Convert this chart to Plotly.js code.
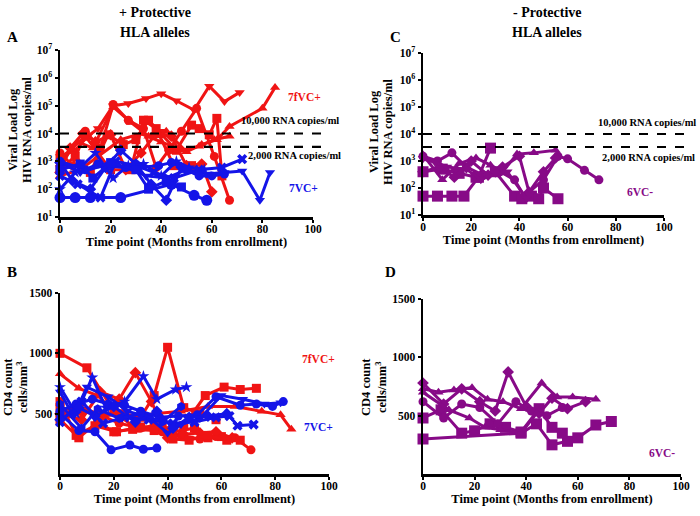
<!DOCTYPE html>
<html>
<head>
<meta charset="utf-8">
<script src="https://cdn.plot.ly/plotly-3.0.1.min.js"></script>
<style>html,body{margin:0;padding:0;background:#fff;}#chart{width:700px;height:516px;}</style>
</head>
<body>
<div id="chart"></div>
<script>
// ---------- Panel A: viral load, + protective HLA (7fVC+ red, 7VC+ blue) ----------
const vlA_red1_x = [0,6,11,15,21,27,34,40,46,53,59,65,71];
const vlA_red1_y = [1500,2500,8000,15000,100000,120000,180000,270000,150000,70000,500000,140000,300000];
const vlA_red2_x = [0,7,13,21,28,35,42,50,56,62,67,80,85];
const vlA_red2_y = [800,5000,3000,90000,25000,8000,12000,2200,4000,6000,18000,80000,450000];
const vlA_red3_x = [0,6,12,19,25,30,35,40,46,52,55,59,62,64];
const vlA_red3_y = [500,1500,400,9000,4000,6000,30000,10000,2500,20000,15000,9000,35000,300];
const vlA_red4_x = [0,5,10,16,21,27,33,38,43,48,54,61,67];
const vlA_red4_y = [2000,700,12000,3000,110000,30000,15000,600,2500,12000,80000,1500,40];
const vlA_red5_x = [0,4,9,14,20,26,32,38,44,50,56,60];
const vlA_red5_y = [400,3000,10000,5000,9000,500,2000,10000,8000,700,800,80];
const vlA_red6_x = [0,8,15,24,32,40,48,55,61,67];
const vlA_red6_y = [300,500,1500,6000,10000,5000,2500,3500,6000,8000];
const vlA_red7_x = [0,10,20,28,33,38,45,52];
const vlA_red7_y = [1200,8000,500,500,30000,15000,700,700];

const vlA_blue1_x = [0,6,12,24,44,53,58];
const vlA_blue1_y = [50,50,50,50,150,60,40];
const vlA_blue2_x = [0,8,17,26,34,42,50,58,65,72,79,83];
const vlA_blue2_y = [900,400,700,600,300,250,500,350,400,450,40,400];
const vlA_blue3_x = [0,7,16,22,30,37,45,55,64,72];
const vlA_blue3_y = [300,150,50,1000,700,400,250,500,600,1200];
const vlA_blue4_x = [0,6,14,21,27,33,40,46,51,57];
const vlA_blue4_y = [100,400,2000,250,700,800,300,1000,600,500];
const vlA_blue5_x = [0,5,12,18,24,30,36,42,48];
const vlA_blue5_y = [900,200,100,600,2500,800,150,40,600];
const vlA_blue6_x = [0,10,15,20,26,31,39,44,50,55,60,65];
const vlA_blue6_y = [1000,500,800,700,600,600,700,900,500,300,300,350];
const vlA_blue7_x = [0,8,13,20,30,35,42,48];
const vlA_blue7_y = [500,800,250,900,500,100,200,120];

// ---------- Panel B: CD4 count, + protective HLA ----------
const cdB_red1_x = [0,10,20,28,35,42,50,55,60];
const cdB_red1_y = [1000,880,520,380,400,350,380,300,310];
const cdB_red2_x = [0,7,14,20,28,35,45,55,65,75,82,86];
const cdB_red2_y = [830,710,650,520,470,500,520,560,560,520,490,370];
const cdB_red3_x = [0,8,16,24,30,35,40,46,52,58];
const cdB_red3_y = [550,520,480,500,470,650,1050,550,500,450];
const cdB_red4_x = [0,6,13,21,30,38,46,54,61,67,73];
const cdB_red4_y = [600,320,400,350,390,380,400,650,720,700,710];
const cdB_red5_x = [0,7,14,22,30,38,45,52,58,65,71];
const cdB_red5_y = [480,560,500,420,380,350,320,290,310,300,200];
const cdB_red6_x = [0,8,15,22,28,34,40,46,52,58,64];
const cdB_red6_y = [500,450,680,620,840,600,300,330,340,350,300];
const cdB_red7_x = [0,7,14,20,27,35,42,48,55,62,67];
const cdB_red7_y = [450,300,430,350,370,360,290,280,320,280,280];

const cdB_blue1_x = [0,7,13,19,26,31,36];
const cdB_blue1_y = [500,360,350,200,240,205,215];
const cdB_blue2_x = [0,6,12,17,24,31,36,43,47];
const cdB_blue2_y = [720,500,800,550,600,810,620,700,720];
const cdB_blue3_x = [0,8,16,24,33,42,50,58,63,66,72];
const cdB_blue3_y = [430,600,420,470,450,420,430,470,480,400,410];
const cdB_blue4_x = [0,6,12,18,24,30,37,44,51,58,67,73,79,83];
const cdB_blue4_y = [520,580,620,580,570,520,470,480,490,640,570,580,560,600];
const cdB_blue5_x = [0,5,10,18,25,33,40,45,52,60,68,76,82];
const cdB_blue5_y = [680,480,720,640,520,470,340,410,460,650,620,580,590];
const cdB_blue6_x = [0,7,13,20,28,36,42,48,55,62];
const cdB_blue6_y = [450,550,480,560,430,520,380,470,480,500];
const cdB_blue7_x = [0,8,14,22,30,38,45];
const cdB_blue7_y = [580,380,540,460,500,430,560];

// ---------- Panel C: viral load, - protective HLA (6VC-) ----------
const vlC_p1_x = [0,6,12,17,23,28];
const vlC_p1_y = [50,50,50,50,250,3000];
const vlC_p2_x = [0,6,12,18,25,32,38,42,50,56,60,67,73];
const vlC_p2_y = [1500,1000,2000,600,300,400,200,50,200,1500,1200,450,200];
const vlC_p3_x = [0,8,15,22,28,33,39,46,55];
const vlC_p3_y = [1700,200,800,1300,700,400,1800,2000,2500];
const vlC_p4_x = [0,8,15,22,30,38,41,45,48,50,56];
const vlC_p4_y = [400,500,350,250,400,50,40,50,40,100,40];
const vlC_p5_x = [0,7,13,20,27,33,40,44,50,55];
const vlC_p5_y = [400,600,250,1000,300,600,1500,70,400,1300];
const vlC_p6_x = [0,5,10,18,24,30,35,43];
const vlC_p6_y = [1200,900,600,500,200,350,400,40];

// ---------- Panel D: CD4 count, - protective HLA (6VC-) ----------
const cdD_p1_x = [0,38,44,50,56,60,67,73];
const cdD_p1_y = [300,350,430,250,280,310,420,450];
const cdD_p2_x = [0,7,15,20,26,32,38,45,50,54];
const cdD_p2_y = [480,550,350,370,430,400,360,560,400,350];
const cdD_p3_x = [0,8,15,22,28,33,40,45,50,56,63];
const cdD_p3_y = [780,600,730,620,540,875,580,520,650,560,620];
const cdD_p4_x = [0,6,12,19,25,31,38,46,52,58,67];
const cdD_p4_y = [730,700,720,740,640,620,560,780,660,660,640];
const cdD_p5_x = [0,8,15,22,29,36,42,48,54];
const cdD_p5_y = [620,480,600,570,430,620,540,500,570];
const cdD_p6_x = [0,10,18,24,30,38,44];
const cdD_p6_y = [700,550,480,400,380,350,520];

const xTicks = [0,20,40,60,80,100];
const vlTicks = [10,100,1000,10000,100000,1000000,10000000];
const vlTickText = ['10<sup>1</sup>','10<sup>2</sup>','10<sup>3</sup>','10<sup>4</sup>','10<sup>5</sup>','10<sup>6</sup>','10<sup>7</sup>'];
const cdTicks = [500,1000,1500];
const thresholds = [10000, 3300];
const xTitle = 'Time point (Months from enrollment)';

const RED = '#f01414', BLUE = '#1414e8', PURPLE = '#870a87';
const FONT = 'Liberation Serif, Times New Roman, serif';

function tr(x, y, sym, color, xa, ya, size) {
  return {x: x, y: y, xaxis: xa, yaxis: ya, type: 'scatter', mode: 'lines+markers',
    cliponaxis: false, showlegend: false, hoverinfo: 'skip',
    line: {color: color, width: 3},
    marker: {symbol: sym, size: size || 9, color: color, line: {width: 0}}};
}

const traces = [
  tr(vlA_red1_x, vlA_red1_y, 'triangle-down', RED, 'x', 'y'),
  tr(vlA_red2_x, vlA_red2_y, 'triangle-up', RED, 'x', 'y'),
  tr(vlA_red3_x, vlA_red3_y, 'square', RED, 'x', 'y'),
  tr(vlA_red4_x, vlA_red4_y, 'circle', RED, 'x', 'y'),
  tr(vlA_red5_x, vlA_red5_y, 'diamond', RED, 'x', 'y'),
  tr(vlA_red6_x, vlA_red6_y, 'triangle-up', RED, 'x', 'y'),
  tr(vlA_red7_x, vlA_red7_y, 'square', RED, 'x', 'y'),
  tr(vlA_blue1_x, vlA_blue1_y, 'circle', BLUE, 'x', 'y', 11),
  tr(vlA_blue2_x, vlA_blue2_y, 'triangle-down', BLUE, 'x', 'y'),
  tr(vlA_blue3_x, vlA_blue3_y, 'x', BLUE, 'x', 'y'),
  tr(vlA_blue4_x, vlA_blue4_y, 'star', BLUE, 'x', 'y'),
  tr(vlA_blue5_x, vlA_blue5_y, 'diamond', BLUE, 'x', 'y'),
  tr(vlA_blue6_x, vlA_blue6_y, 'circle', BLUE, 'x', 'y'),
  tr(vlA_blue7_x, vlA_blue7_y, 'square', BLUE, 'x', 'y'),

  tr(cdB_red1_x, cdB_red1_y, 'square', RED, 'x2', 'y2'),
  tr(cdB_red2_x, cdB_red2_y, 'triangle-up', RED, 'x2', 'y2'),
  tr(cdB_red3_x, cdB_red3_y, 'square', RED, 'x2', 'y2'),
  tr(cdB_red4_x, cdB_red4_y, 'square', RED, 'x2', 'y2'),
  tr(cdB_red5_x, cdB_red5_y, 'circle', RED, 'x2', 'y2'),
  tr(cdB_red6_x, cdB_red6_y, 'diamond', RED, 'x2', 'y2'),
  tr(cdB_red7_x, cdB_red7_y, 'square', RED, 'x2', 'y2'),
  tr(cdB_blue1_x, cdB_blue1_y, 'circle', BLUE, 'x2', 'y2'),
  tr(cdB_blue2_x, cdB_blue2_y, 'star', BLUE, 'x2', 'y2'),
  tr(cdB_blue3_x, cdB_blue3_y, 'x', BLUE, 'x2', 'y2'),
  tr(cdB_blue4_x, cdB_blue4_y, 'circle', BLUE, 'x2', 'y2'),
  tr(cdB_blue5_x, cdB_blue5_y, 'triangle-down', BLUE, 'x2', 'y2'),
  tr(cdB_blue6_x, cdB_blue6_y, 'diamond', BLUE, 'x2', 'y2'),
  tr(cdB_blue7_x, cdB_blue7_y, 'hexagon', BLUE, 'x2', 'y2'),

  tr(vlC_p1_x, vlC_p1_y, 'square', PURPLE, 'x3', 'y3', 11),
  tr(vlC_p2_x, vlC_p2_y, 'circle', PURPLE, 'x3', 'y3'),
  tr(vlC_p3_x, vlC_p3_y, 'triangle-up', PURPLE, 'x3', 'y3'),
  tr(vlC_p4_x, vlC_p4_y, 'square', PURPLE, 'x3', 'y3', 11),
  tr(vlC_p5_x, vlC_p5_y, 'diamond', PURPLE, 'x3', 'y3'),
  tr(vlC_p6_x, vlC_p6_y, 'triangle-down', PURPLE, 'x3', 'y3'),

  tr(cdD_p1_x, cdD_p1_y, 'square', PURPLE, 'x4', 'y4', 11),
  tr(cdD_p2_x, cdD_p2_y, 'square', PURPLE, 'x4', 'y4', 11),
  tr(cdD_p3_x, cdD_p3_y, 'diamond', PURPLE, 'x4', 'y4'),
  tr(cdD_p4_x, cdD_p4_y, 'triangle-up', PURPLE, 'x4', 'y4'),
  tr(cdD_p5_x, cdD_p5_y, 'circle', PURPLE, 'x4', 'y4'),
  tr(cdD_p6_x, cdD_p6_y, 'triangle-up', PURPLE, 'x4', 'y4')
];

const tickFont = {family: FONT, size: 11.5, color: '#000', weight: 'bold'};
function xax(domain, anchor) {
  return {domain: domain, anchor: anchor, range: [0, 100], tickvals: xTicks,
    showline: true, linewidth: 2.5, linecolor: '#000', ticks: 'outside', ticklen: 3, tickwidth: 2,
    tickcolor: '#000', showgrid: false, zeroline: false, tickfont: tickFont, fixedrange: true,
    ticklabelstandoff: -3,
    title: {text: xTitle, font: {family: FONT, size: 12.5, color: '#000', weight: 'bold'}, standoff: 2}};
}
function yLog(domain, anchor) {
  return {domain: domain, anchor: anchor, type: 'log', range: [1, 7], tickvals: vlTicks, ticktext: vlTickText,
    showline: true, linewidth: 2.5, linecolor: '#000', ticks: 'outside', ticklen: 3, tickwidth: 2,
    tickcolor: '#000', showgrid: false, zeroline: false, tickfont: tickFont, fixedrange: true};
}
function yLin(domain, anchor) {
  return {domain: domain, anchor: anchor, range: [0, 1500], tickvals: cdTicks,
    showline: true, linewidth: 2.5, linecolor: '#000', ticks: 'outside', ticklen: 3, tickwidth: 2,
    tickcolor: '#000', showgrid: false, zeroline: false, tickfont: tickFont, fixedrange: true};
}

const W = 700, H = 516;
function px(x) { return x / W; }
function py(y) { return 1 - y / H; }

const domA = {x: [px(60), px(313)], y: [py(217), py(50)]};
const domB = {x: [px(60), px(329)], y: [py(474), py(293)]};
const domC = {x: [px(423), px(664)], y: [py(215), py(53)]};
const domD = {x: [px(423), px(681)], y: [py(474), py(299)]};

function ann(text, x, y, opts) {
  return Object.assign({text: text, xref: 'paper', yref: 'paper', x: px(x), y: py(y),
    showarrow: false, xanchor: 'center', yanchor: 'middle',
    font: {family: FONT, size: 11, color: '#000', weight: 'bold'}}, opts || {});
}
const bigFont = {family: FONT, size: 14, color: '#000', weight: 'bold'};
const titleFont = {family: FONT, size: 12.5, color: '#000', weight: 'bold'};
const letterFont = {family: FONT, size: 15, color: '#000', weight: 'bold'};
const refFont = {family: FONT, size: 10.5, color: '#000', weight: 'bold'};

const annotations = [
  ann('+ Protective', 155, 12, {font: bigFont}),
  ann('HLA alleles', 155, 32, {font: bigFont}),
  ann('- Protective', 547, 12, {font: bigFont}),
  ann('HLA alleles', 547, 32, {font: bigFont}),
  ann('A', 12, 37, {font: letterFont}),
  ann('C', 395, 37, {font: letterFont}),
  ann('B', 12, 272, {font: letterFont}),
  ann('D', 390, 272, {font: letterFont}),
  ann('Viral Load Log', 13, 130, {textangle: -90, font: titleFont}),
  ann('HIV RNA copies/ml', 27, 130, {textangle: -90, font: titleFont}),
  ann('Viral Load Log', 374, 132, {textangle: -90, font: titleFont}),
  ann('HIV RNA copies/ml', 388, 132, {textangle: -90, font: titleFont}),
  ann('CD4 count', 8, 387, {textangle: -90, font: titleFont}),
  ann('cells/mm<sup>3</sup>', 22, 387, {textangle: -90, font: titleFont}),
  ann('CD4 count', 366, 387, {textangle: -90, font: titleFont}),
  ann('cells/mm<sup>3</sup>', 381, 387, {textangle: -90, font: titleFont}),
  ann('10,000 RNA copies/ml', 341, 121, {xanchor: 'right', font: refFont}),
  ann('2,000 RNA copies/ml', 343, 155, {xanchor: 'right', font: refFont}),
  ann('10,000 RNA copies/ml', 698, 123, {xanchor: 'right', font: refFont}),
  ann('2,000 RNA copies/ml', 697, 157, {xanchor: 'right', font: refFont}),
  ann('7fVC+', 304, 97, {font: {family: FONT, size: 11.5, color: RED, weight: 'bold'}}),
  ann('7VC+', 303, 188, {font: {family: FONT, size: 11.5, color: BLUE, weight: 'bold'}}),
  ann('6VC-', 640, 192, {font: {family: FONT, size: 11.5, color: PURPLE, weight: 'bold'}}),
  ann('7fVC+', 318, 359, {font: {family: FONT, size: 11.5, color: RED, weight: 'bold'}}),
  ann('7VC+', 318, 427, {font: {family: FONT, size: 11.5, color: BLUE, weight: 'bold'}}),
  ann('6VC-', 662, 453, {font: {family: FONT, size: 11.5, color: PURPLE, weight: 'bold'}})
];

const shapes = [];
thresholds.forEach(function (t) {
  shapes.push({type: 'line', xref: 'paper', yref: 'y', x0: domA.x[0], x1: px(321), y0: t, y1: t,
    line: {color: '#000', width: 2.2, dash: 'dash'}});
  shapes.push({type: 'line', xref: 'paper', yref: 'y3', x0: domC.x[0], x1: px(688), y0: t, y1: t,
    line: {color: '#000', width: 2.2, dash: 'dash'}});
});

const layout = {
  width: W, height: H, margin: {l: 0, r: 0, t: 0, b: 0},
  paper_bgcolor: '#fff', plot_bgcolor: 'rgba(0,0,0,0)', showlegend: false,
  font: {family: FONT, color: '#000'},
  xaxis: xax(domA.x, 'y'), yaxis: yLog(domA.y, 'x'),
  xaxis2: xax(domB.x, 'y2'), yaxis2: yLin(domB.y, 'x2'),
  xaxis3: xax(domC.x, 'y3'), yaxis3: yLog(domC.y, 'x3'),
  xaxis4: xax(domD.x, 'y4'), yaxis4: yLin(domD.y, 'x4'),
  annotations: annotations, shapes: shapes
};

Plotly.newPlot('chart', traces, layout, {staticPlot: true, displayModeBar: false});
</script>
</body>
</html>
